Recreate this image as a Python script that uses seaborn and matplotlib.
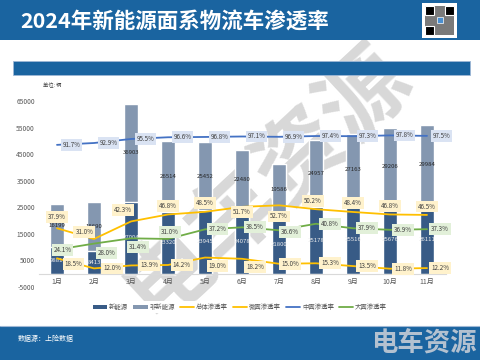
import matplotlib
matplotlib.use("Agg")
import matplotlib.pyplot as plt
from matplotlib.patches import Rectangle, Patch
from matplotlib.lines import Line2D
import numpy as np
import seaborn as sns

# data
months = ["1月", "2月", "3月", "4月", "5月", "6月", "7月", "8月", "9月", "10月", "11月"]
new_energy = [9881, 8413, 27004, 23320, 23945, 24078, 21800, 25178, 25516, 25676, 26111]
non_new_energy = [16199, 18690, 36903, 26514, 25452, 22480, 19586, 24957, 27163, 29206, 29984]
overall_rate = [37.9, 31.0, 42.3, 46.8, 48.5, 51.7, 52.7, 50.2, 48.4, 46.8, 46.5]
micro_rate = [18.5, 12.0, 13.9, 14.2, 19.0, 18.2, 15.0, 15.3, 13.5, 11.8, 12.2]
medium_rate = [91.7, 92.9, 95.5, 96.6, 96.8, 97.1, 96.9, 97.4, 97.3, 97.8, 97.5]
large_rate = [24.1, 28.0, 31.4, 31.0, 37.2, 38.5, 36.6, 40.8, 37.9, 36.9, 37.3]
y_ticks = [-5000, 5000, 15000, 25000, 35000, 45000, 55000, 65000]

# label placement (offset points) per point
overall_off = [(0, 8), (-7, 5), (-6, 8), (0, 6), (0, 6.5), (0, -3.5), (0, -8),
               (-2, 6), (0, 6.5), (0, 6), (0, 6)]
micro_off = [(12, -4), (13, 0), (13, 0), (10, 0), (9, -6), (9.5, -6), (8, 0),
             (10, 0), (10, 0), (9.5, 0), (9.5, 0)]
medium_off = [(10.5, 0)] * 11
large_off = [(4, 0), (9, -7), (5, -6), (1.5, 5), (9, 0), (9.5, 0), (8, -1.5),
             (10, 0), (10, 0), (9.5, 0), (9.5, 0)]

DARK = "#385b86"
LIGHT = "#8497b0"
GOLD = "#ffc000"
BLUE = "#4472c4"
GREEN = "#70ad47"
BAND = "#1a64a0"
GRAY = "#595959"

sns.set_theme(style="white")
plt.rcParams["font.family"] = ["Noto Sans CJK SC", "DejaVu Sans"]
plt.rcParams["axes.unicode_minus"] = False

fig = plt.figure(figsize=(4.8, 3.6), dpi=100)
fig.patch.set_facecolor("white")

# watermark behind everything
fig.text(266 / 480, 1 - 182 / 360, "电车资源", rotation=43, fontsize=64, color="#d8d8d8",
         ha="center", va="center", fontweight="bold", zorder=-1)

# header / footer bands
fig.patches.append(Rectangle((0, 1 - 40 / 360), 1, 40 / 360, transform=fig.transFigure,
                             fc=BAND, ec="none", zorder=0))
fig.patches.append(Rectangle((13 / 480, 1 - 75 / 360), 457 / 480, 14 / 360, transform=fig.transFigure,
                             fc=BAND, ec="#9fb8d6", lw=0.6, zorder=0))
fig.patches.append(Rectangle((0, 0), 1, 34 / 360, transform=fig.transFigure,
                             fc=BAND, ec="none", zorder=0))
fig.add_artist(Line2D([0, 1], [34 / 360, 34 / 360], transform=fig.transFigure, color="#9fb8d6", lw=0.8))

fig.text(20 / 480, 1 - 22 / 360, "2024年新能源面系物流车渗透率", color="white", fontsize=15.5,
         fontweight="bold", ha="left", va="center")

# qr-like badge
fig.patches.append(Rectangle((422 / 480, 1 - 38 / 360), 35 / 480, 35 / 360, transform=fig.transFigure,
                             fc="white", ec="none", zorder=1))
fig.patches.append(Rectangle((425 / 480, 1 - 35 / 360), 29 / 480, 29 / 360, transform=fig.transFigure,
                             fc="#7a7a7a", ec="none", zorder=2))
for qx, qy in [(425, 6), (445, 6), (425, 26)]:
    fig.patches.append(Rectangle((qx / 480, 1 - (qy + 9) / 360), 9 / 480, 9 / 360, transform=fig.transFigure,
                                 fc="black", ec="white", lw=0.8, zorder=3))
fig.patches.append(Rectangle((437 / 480, 1 - 23 / 360), 6 / 480, 6 / 360, transform=fig.transFigure,
                             fc="#4a8fd0", ec="white", lw=0.5, zorder=3))

fig.text(18 / 480, 1 - 339 / 360, "数据源：上险数据", color="white", fontsize=5, ha="left", va="center")
fig.text(477 / 480, 1 - 344 / 360, "电车资源", color="#c5ccd6", fontsize=19, fontweight="bold",
         ha="right", va="center", alpha=0.9)

fig.text(43 / 480, 1 - 85 / 360, "单位: 辆", color="#404040", fontsize=3.8, ha="left", va="center")

ax = fig.add_axes([38.5 / 480, 1 - 287 / 360, 407 / 480, 186 / 360])
ax.set_facecolor("none")

x = np.arange(len(months))
totals = np.array(new_energy) + np.array(non_new_energy)

sns.barplot(x=months, y=totals, color=LIGHT, saturation=1, width=0.4, errorbar=None, ax=ax, zorder=2)
sns.barplot(x=months, y=new_energy, color=DARK, saturation=1, width=0.4, errorbar=None, ax=ax, zorder=2)

for i in range(len(months)):
    ax.text(i, new_energy[i] / 2, f"{new_energy[i]}", color="#eeeeee", fontsize=4.3,
            ha="center", va="center", zorder=4)
    ax.text(i, new_energy[i] + non_new_energy[i] / 2, f"{non_new_energy[i]}", color="#262626",
            fontsize=4.3, ha="center", va="center", zorder=4)

ax.set_ylim(-5000, 65000)
ax.set_yticks(y_ticks)
ax.set_yticklabels([str(t) for t in y_ticks], fontsize=4.8, color=GRAY)
ax.set_xlabel("")
ax.set_ylabel("")
ax.tick_params(axis="both", length=0, pad=2.5)
ax.tick_params(axis="x", labelsize=5, colors=GRAY, pad=3)
for s in ["top", "right", "left"]:
    ax.spines[s].set_visible(False)
ax.spines["bottom"].set_position(("data", 0))
ax.spines["bottom"].set_color("#d9d9d9")
ax.spines["bottom"].set_linewidth(0.8)

ax2 = ax.twinx()
ax2.set_ylim(0, 120)
ax2.axis("off")

series = [
    (overall_rate, GOLD, "#fff2cc", overall_off),
    (micro_rate, GOLD, "#fff2cc", micro_off),
    (medium_rate, BLUE, "#dae3f3", medium_off),
    (large_rate, GREEN, "#e2f0d9", large_off),
]

for vals, col, fc, offs in series:
    sns.lineplot(x=x, y=vals, color=col, lw=1.3, ax=ax2, zorder=2)
    for i, v in enumerate(vals):
        ax2.annotate(f"{v:.1f}%", (i, v), xytext=offs[i], textcoords="offset points",
                     ha="center", va="center", fontsize=4.5, color="#404040", zorder=5,
                     bbox=dict(boxstyle="square,pad=0.3", fc=fc, ec="none"))

ax.set_xlim(-0.5, len(months) - 0.5)
ax2.set_xlim(-0.5, len(months) - 0.5)

handles = [
    Patch(fc=DARK, ec="none"),
    Patch(fc=LIGHT, ec="none"),
    Line2D([], [], color=GOLD, lw=1.3),
    Line2D([], [], color=GOLD, lw=1.3),
    Line2D([], [], color=BLUE, lw=1.3),
    Line2D([], [], color=GREEN, lw=1.3),
]
labels = ["新能源", "非新能源", "总体渗透率", "微面渗透率", "中面渗透率", "大面渗透率"]
leg = fig.legend(handles, labels, loc="center", bbox_to_anchor=(0.5, 1 - 307 / 360), ncol=6,
                 frameon=True, fontsize=4.6, handlelength=2.2, handleheight=0.5,
                 columnspacing=0.8, handletextpad=0.3, borderpad=0.3, fancybox=False)
leg.get_frame().set_facecolor("white")
leg.get_frame().set_edgecolor("none")
leg.get_frame().set_alpha(1)
for t in leg.get_texts():
    t.set_color(GRAY)

fig.savefig("out.png", dpi=100)
